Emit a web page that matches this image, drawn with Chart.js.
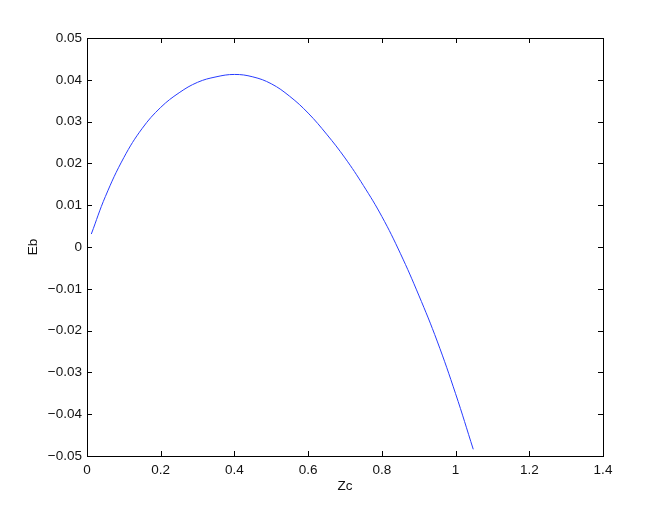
<!DOCTYPE html>
<html>
<head>
<meta charset="utf-8">
<script src="https://cdn.jsdelivr.net/npm/chart.js@4/dist/chart.umd.min.js"></script>
<style>
  html, body { margin: 0; padding: 0; background: #fff; }
  #wrap { width: 666px; height: 513px; }
</style>
</head>
<body>
<div id="wrap"><canvas id="c" width="666" height="513"></canvas></div>
<script>
// Data
const zc = [0.0117, 0.05, 0.1, 0.15, 0.2, 0.25, 0.3, 0.35, 0.4, 0.45, 0.5, 0.55, 0.6, 0.65, 0.7, 0.75, 0.8, 0.85, 0.9, 0.95, 1.0, 1.048];
const eb = [0.0031, 0.0121, 0.0214, 0.0284, 0.0334, 0.0369, 0.0394, 0.0407, 0.04128, 0.0407, 0.03905, 0.03605, 0.03204, 0.0270, 0.0213, 0.0147, 0.0073, -0.0015, -0.0115, -0.0225, -0.03509, -0.0484];

const xTickValues = [0, 0.2, 0.4, 0.6, 0.8, 1, 1.2, 1.4];
const xTickLabels = ['0', '0.2', '0.4', '0.6', '0.8', '1', '1.2', '1.4'];
const yTickValues = [-0.05, -0.04, -0.03, -0.02, -0.01, 0, 0.01, 0.02, 0.03, 0.04, 0.05];
const yTickLabels = ['\u22120.05', '\u22120.04', '\u22120.03', '\u22120.02', '\u22120.01', '0', '0.01', '0.02', '0.03', '0.04', '0.05'];

const xTitle = 'Zc';
const yTitle = 'Eb';

const points = zc.map((x, i) => ({ x: x, y: eb[i] }));

function labelFor(values, labels, v) {
  let best = 0, bd = Infinity;
  values.forEach((t, i) => { const d = Math.abs(t - v); if (d < bd) { bd = d; best = i; } });
  return bd < 1e-6 ? labels[best] : '';
}

const boxTicks = {
  id: 'boxTicks',
  afterDraw(chart) {
    const ctx = chart.ctx;
    const a = chart.chartArea;
    const xs = chart.scales.x, ys = chart.scales.y;
    const L = 5;
    ctx.save();
    ctx.strokeStyle = '#000';
    ctx.lineWidth = 1;
    ctx.beginPath();
    xTickValues.forEach(v => {
      const px = Math.round(xs.getPixelForValue(v)) + 0.5;
      ctx.moveTo(px, a.bottom); ctx.lineTo(px, a.bottom - L);
      ctx.moveTo(px, a.top); ctx.lineTo(px, a.top + L);
    });
    yTickValues.forEach(v => {
      const py = Math.round(ys.getPixelForValue(v)) + 0.5;
      ctx.moveTo(a.left, py); ctx.lineTo(a.left + L, py);
      ctx.moveTo(a.right, py); ctx.lineTo(a.right - L, py);
    });
    ctx.stroke();
    ctx.strokeRect(Math.round(a.left) + 0.5, Math.round(a.top) + 0.5,
                   Math.round(a.right - a.left), Math.round(a.bottom - a.top));
    ctx.restore();
  }
};

const font = { family: '"Liberation Sans", Arial, Helvetica, sans-serif', size: 13.5 };

new Chart(document.getElementById('c'), {
  type: 'line',
  data: {
    datasets: [{
      data: points,
      borderColor: 'rgb(40,60,255)',
      borderWidth: 1,
      pointRadius: 0,
      fill: false,
      tension: 0.4
    }]
  },
  options: {
    responsive: false,
    animation: false,
    devicePixelRatio: 1,
    layout: { padding: { left: 0, top: 38, right: 63, bottom: 0 } },
    plugins: { legend: { display: false }, tooltip: { enabled: false } },
    scales: {
      x: {
        type: 'linear',
        min: 0, max: 1.4,
        grid: { display: false, drawTicks: false },
        border: { display: false },
        afterBuildTicks: s => { s.ticks = xTickValues.map(v => ({ value: v })); },
        afterFit: s => { s.height = 57; },
        ticks: {
          color: '#111', font: font, padding: 6, maxRotation: 0, autoSkip: false,
          callback: v => labelFor(xTickValues, xTickLabels, v)
        },
        title: { display: true, text: xTitle, color: '#111', font: font, padding: { top: 0, bottom: 19 } }
      },
      y: {
        type: 'linear',
        min: -0.05, max: 0.05,
        grid: { display: false, drawTicks: false },
        border: { display: false },
        afterBuildTicks: s => { s.ticks = yTickValues.map(v => ({ value: v })); },
        afterFit: s => { s.width = 87; },
        ticks: {
          color: '#111', font: font, padding: 5, autoSkip: false,
          callback: v => labelFor(yTickValues, yTickLabels, v)
        },
        title: { display: true, text: yTitle, color: '#111', font: font, padding: { top: 25, bottom: 0 } }
      }
    }
  },
  plugins: [boxTicks]
});
</script>
</body>
</html>
